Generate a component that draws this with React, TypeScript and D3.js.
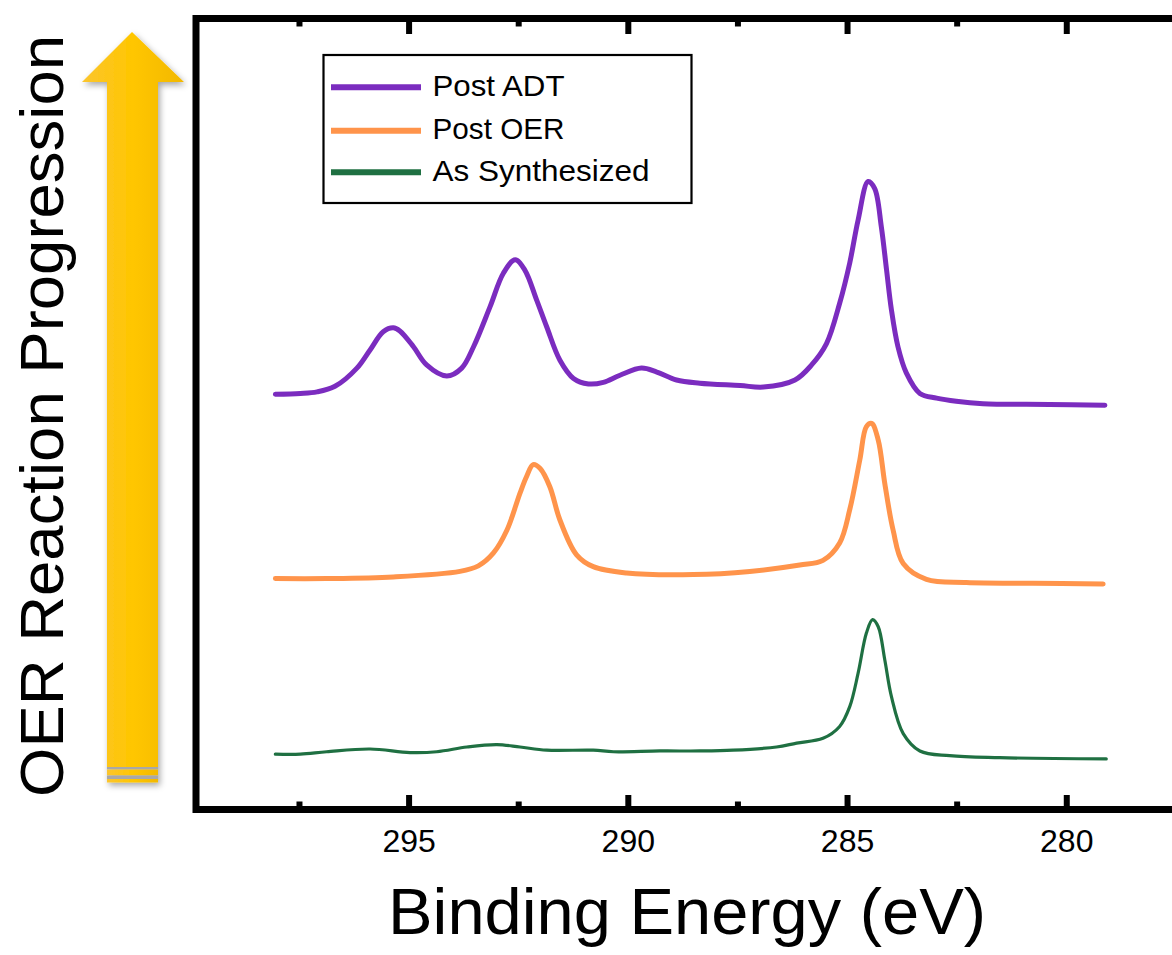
import React from "react";
import * as d3 from "d3";

// ---------- data ----------
const xTickMajor = [295, 290, 285, 280];
const xTickMinor = [297.5, 292.5, 287.5, 282.5];

// Post ADT (purple) – binding energy (eV) and stacked intensity (a.u.)
const adtEnergy = [298.05, 297.48, 297.10, 296.69, 296.19, 295.89, 295.59, 295.36, 295.21, 294.90, 294.60, 294.14, 293.80, 293.53, 293.15, 292.85, 292.58, 292.36, 292.09, 291.86, 291.56, 291.25, 290.91, 290.57, 290.19, 289.70, 289.35, 288.90, 288.37, 287.45, 286.92, 286.20, 285.82, 285.48, 285.18, 284.95, 284.76, 284.53, 284.38, 284.23, 284.11, 284.00, 283.85, 283.66, 283.35, 282.97, 282.52, 281.91, 280.39, 279.13];
const adtIntensity = [52.5, 52.6, 52.8, 53.5, 55.8, 58.1, 60.4, 60.9, 60.5, 58.5, 56.2, 54.8, 55.8, 58.5, 63.6, 67.8, 69.5, 68.2, 64.4, 61.0, 56.8, 54.5, 53.8, 54.0, 54.9, 55.8, 55.3, 54.3, 53.9, 53.6, 53.4, 54.3, 56.2, 58.9, 64.0, 69.1, 74.5, 79.4, 78.5, 73.7, 68.2, 63.2, 58.5, 55.2, 52.6, 52.0, 51.6, 51.3, 51.2, 51.1];

// Post OER (orange)
const oerEnergy = [298.05, 296.88, 295.36, 293.84, 293.42, 293.08, 292.77, 292.47, 292.32, 292.17, 292.01, 291.79, 291.56, 291.18, 290.80, 290.04, 288.52, 287.23, 286.09, 285.56, 285.18, 284.95, 284.72, 284.57, 284.45, 284.30, 284.15, 283.96, 283.73, 283.20, 282.29, 280.77, 279.17];
const oerIntensity = [29.2, 29.2, 29.4, 30.1, 30.8, 32.4, 35.3, 40.0, 42.1, 43.6, 43.1, 40.8, 36.6, 32.2, 30.7, 29.9, 29.7, 30.1, 30.9, 31.5, 33.7, 37.9, 44.2, 48.4, 48.8, 46.7, 41.2, 35.3, 31.1, 29.1, 28.7, 28.6, 28.5];

// As Synthesized (green)
const asEnergy = [298.05, 297.48, 296.88, 295.89, 294.98, 294.37, 293.68, 293.00, 292.47, 291.86, 290.80, 290.34, 289.28, 288.37, 287.61, 286.62, 286.16, 285.56, 285.18, 284.95, 284.76, 284.57, 284.43, 284.30, 284.15, 284.00, 283.73, 283.35, 282.67, 281.53, 279.10];
const asIntensity = [7.0, 7.0, 7.3, 7.65, 7.2, 7.3, 7.9, 8.2, 7.9, 7.5, 7.5, 7.3, 7.4, 7.4, 7.5, 7.9, 8.4, 9.0, 10.5, 13.0, 17.2, 22.3, 24.0, 23.1, 18.9, 14.3, 9.6, 7.4, 6.8, 6.55, 6.4];

const seriesNames = ["Post ADT", "Post OER", "As Synthesized"];
const seriesColors = ["#7B2CBF", "#FF944B", "#1F7042"];
const seriesWidths = [5, 5, 3.2];
const legendTextWidths = [132, 132, 217];

const xTitle = "Binding Energy (eV)";
const yTitle = "OER Reaction Progression";

// ---------- layout ----------
const W = 1172;
const H = 955;
const frame = { left: 196, top: 18.5, bottom: 809.5, right: 1180 };
const FONT = "'Liberation Sans', Arial, sans-serif";

export default function App() {
  const x = d3.scaleLinear().domain([299.86, 277.6]).range([196, 1172]);
  const y = d3.scaleLinear().domain([0, 100]).range([frame.bottom, frame.top]);

  const series = [
    { e: adtEnergy, v: adtIntensity },
    { e: oerEnergy, v: oerIntensity },
    { e: asEnergy, v: asIntensity },
  ];

  const line = d3
    .line<[number, number]>()
    .x((d) => x(d[0]))
    .y((d) => y(d[1]))
    .curve(d3.curveCatmullRom.alpha(0.5));

  const inB = frame.bottom - 3.5;
  const inT = frame.top + 3.5;

  return (
    <svg
      width={W}
      height={H}
      style={{ position: "absolute", left: 0, top: 0, background: "#fff" }}
    >
      <defs>
        <linearGradient id="arrowGrad" x1="0" x2="1" y1="0" y2="0">
          <stop offset="0" stopColor="#FBC52E" />
          <stop offset="0.5" stopColor="#FFC600" />
          <stop offset="1" stopColor="#F2B800" />
        </linearGradient>
        <filter id="shadow" x="-30%" y="-10%" width="160%" height="120%">
          <feDropShadow dx="2" dy="3" stdDeviation="3" floodColor="#000" floodOpacity="0.35" />
        </filter>
      </defs>

      {/* Arrow */}
      <g filter="url(#shadow)">
        <polygon points="132,32 184,82 158,82 158,767 107,767 107,82 82,82" fill="url(#arrowGrad)" />
        <rect x={107} y={767} width={51} height={2.5} fill="#A8A8A8" />
        <rect x={107} y={769.5} width={51} height={6} fill="url(#arrowGrad)" />
        <rect x={107} y={775.5} width={51} height={3.5} fill="#A8A8A8" />
        <rect x={107} y={779} width={51} height={3.5} fill="url(#arrowGrad)" />
      </g>

      {/* Y title */}
      <text
        transform={`translate(63, 416) rotate(-90)`}
        textAnchor="middle"
        fontFamily={FONT}
        fontSize={62}
        textLength={762}
        lengthAdjust="spacingAndGlyphs"
        fill="#000"
      >
        {yTitle}
      </text>

      {/* Series */}
      {series.map((s, i) => (
        <path
          key={seriesNames[i]}
          d={line(s.e.map((e, k) => [e, s.v[k]] as [number, number])) || ""}
          fill="none"
          stroke={seriesColors[i]}
          strokeWidth={seriesWidths[i]}
          strokeLinejoin="round"
          strokeLinecap="round"
        />
      ))}

      {/* Frame */}
      <rect
        x={frame.left}
        y={frame.top}
        width={frame.right - frame.left}
        height={frame.bottom - frame.top}
        fill="none"
        stroke="#000"
        strokeWidth={7}
      />

      {/* Ticks (inward, mirrored top) */}
      {xTickMajor.map((t) => (
        <g key={"M" + t}>
          <line x1={x(t)} x2={x(t)} y1={inB} y2={inB - 11} stroke="#000" strokeWidth={6} />
          <line x1={x(t)} x2={x(t)} y1={inT} y2={inT + 12} stroke="#000" strokeWidth={6} />
        </g>
      ))}
      {xTickMinor.map((t) => (
        <g key={"m" + t}>
          <line x1={x(t)} x2={x(t)} y1={inB} y2={inB - 4.5} stroke="#000" strokeWidth={6} />
          <line x1={x(t)} x2={x(t)} y1={inT} y2={inT + 4.5} stroke="#000" strokeWidth={6} />
        </g>
      ))}

      {/* Tick labels */}
      {xTickMajor.map((t) => (
        <text
          key={"l" + t}
          x={x(t)}
          y={852}
          textAnchor="middle"
          fontFamily={FONT}
          fontSize={32}
          fill="#000"
        >
          {t}
        </text>
      ))}

      {/* X title */}
      <text
        x={687}
        y={934}
        textAnchor="middle"
        fontFamily={FONT}
        fontSize={64}
        textLength={598}
        lengthAdjust="spacingAndGlyphs"
        fill="#000"
      >
        {xTitle}
      </text>

      {/* Legend */}
      <rect x={323.5} y={55} width={368} height={148} fill="#fff" stroke="#000" strokeWidth={2.2} />
      {seriesNames.map((n, i) => {
        const ly = [87.3, 130.7, 172.3][i];
        return (
          <g key={"lg" + n}>
            <line x1={331} x2={421} y1={ly} y2={ly} stroke={seriesColors[i]} strokeWidth={6} />
            <text
              x={432.5}
              y={ly + 8.5}
              fontFamily={FONT}
              fontSize={30}
              textLength={legendTextWidths[i]}
              lengthAdjust="spacingAndGlyphs"
              fill="#000"
            >
              {n}
            </text>
          </g>
        );
      })}
    </svg>
  );
}
